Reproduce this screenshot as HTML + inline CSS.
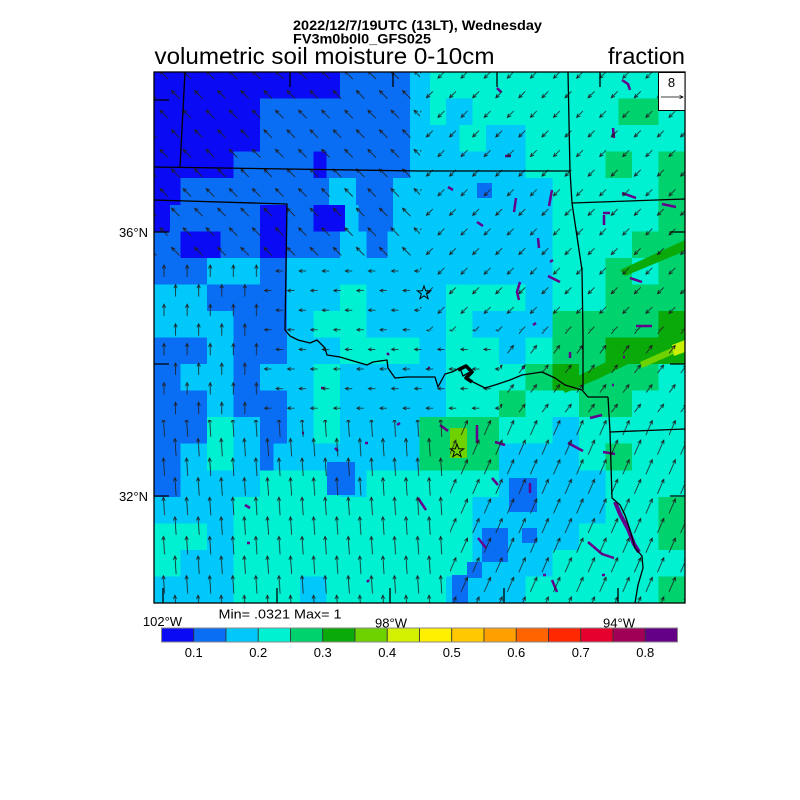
<!DOCTYPE html>
<html><head><meta charset="utf-8"><style>
html,body{margin:0;padding:0;background:#fff}
svg{display:block}
.a{fill:#0a0af5}.b{fill:#0a6ef5}.c{fill:#00c8fa}.d{fill:#00f0d2}.e{fill:#00d26e}.f{fill:#0aaa0a}.g{fill:#6ed200}
text{font-family:"Liberation Sans",Arial,sans-serif;fill:#000}
</style></head><body>
<svg width="800" height="800" viewBox="0 0 800 800" xmlns="http://www.w3.org/2000/svg">
<rect width="800" height="800" fill="#fff"/>
<defs>
<g id="aNW"><path d="M4,4L-4,-4M-0.24,-2.63L-4,-4L-2.63,-0.24"/></g>
<g id="aSW"><path d="M3.2,-3.2L-3.2,3.2M0.56,1.83L-3.2,3.2L-1.83,-0.56"/></g>
<g id="aW"><path d="M3.5,0L-3.5,0M-0.2,-1.6L-3.5,0L-0.2,1.6"/></g>
<g id="aNm"><path d="M0,6L0,-6M-1.7,-2.4L0,-6L1.7,-2.4"/></g>
<g id="aNl"><path d="M0.6,9L-0.6,-9M-2.2,-5.3L-0.6,-9L1.2,-5.5"/></g>
<g id="aNE"><path d="M-3.2,7.3L3.2,-7.3M3.3,-3.3L3.2,-7.3L0.2,-4.65"/></g>
<g id="aNEs"><path d="M-3,4L3,-4M2.18,-0.09L3,-4L-0.53,-2.12"/></g>
<pattern id="pNW" patternUnits="userSpaceOnUse" x="152.45" y="65.2" width="23.1" height="39.2"><g fill="none" stroke="#1e1e1e" stroke-width="0.8"><use href="#aNW" x="11.55" y="9.8"/><use href="#aNW" x="0" y="29.4"/><use href="#aNW" x="23.1" y="29.4"/></g></pattern>
<pattern id="pSW" patternUnits="userSpaceOnUse" x="152.45" y="65.2" width="23.1" height="39.2"><g fill="none" stroke="#1e1e1e" stroke-width="0.8"><use href="#aSW" x="11.55" y="9.8"/><use href="#aSW" x="0" y="29.4"/><use href="#aSW" x="23.1" y="29.4"/></g></pattern>
<pattern id="pW" patternUnits="userSpaceOnUse" x="152.45" y="65.2" width="23.1" height="39.2"><g fill="none" stroke="#1e1e1e" stroke-width="0.8"><use href="#aW" x="11.55" y="9.8"/><use href="#aW" x="0" y="29.4"/><use href="#aW" x="23.1" y="29.4"/></g></pattern>
<pattern id="pNm" patternUnits="userSpaceOnUse" x="152.45" y="65.2" width="23.1" height="39.2"><g fill="none" stroke="#1e1e1e" stroke-width="0.8"><use href="#aNm" x="11.55" y="9.8"/><use href="#aNm" x="0" y="29.4"/><use href="#aNm" x="23.1" y="29.4"/></g></pattern>
<pattern id="pNl" patternUnits="userSpaceOnUse" x="152.45" y="65.2" width="23.1" height="39.2"><g fill="none" stroke="#1e1e1e" stroke-width="0.8"><use href="#aNl" x="11.55" y="9.8"/><use href="#aNl" x="0" y="29.4"/><use href="#aNl" x="23.1" y="29.4"/></g></pattern>
<pattern id="pNE" patternUnits="userSpaceOnUse" x="152.45" y="65.2" width="23.1" height="39.2"><g fill="none" stroke="#1e1e1e" stroke-width="0.8"><use href="#aNE" x="11.55" y="9.8"/><use href="#aNE" x="0" y="29.4"/><use href="#aNE" x="23.1" y="29.4"/></g></pattern>
<pattern id="pNEs" patternUnits="userSpaceOnUse" x="152.45" y="65.2" width="23.1" height="39.2"><g fill="none" stroke="#1e1e1e" stroke-width="0.8"><use href="#aNEs" x="11.55" y="9.8"/><use href="#aNEs" x="0" y="29.4"/><use href="#aNEs" x="23.1" y="29.4"/></g></pattern>
<clipPath id="plotclip"><rect x="154" y="72" width="531" height="531"/></clipPath>
</defs>

<!-- color grid -->
<svg x="154" y="72" width="531" height="531" viewBox="0 0 20 20" preserveAspectRatio="none" shape-rendering="crispEdges">
<rect x="0" y="0" width="20" height="20" class="c"/>
<!-- row 0 -->
<rect x="0" y="0" width="7" height="1" class="a"/><rect x="7" y="0" width="2.65" height="1" class="b"/><rect x="10.4" y="0" width="9.6" height="1" class="d"/>
<!-- row 1 -->
<rect x="0" y="1" width="4" height="1" class="a"/><rect x="4" y="1" width="5.65" height="1" class="b"/><rect x="10.4" y="1" width="0.6" height="1" class="d"/><rect x="12" y="1" width="5.5" height="1" class="d"/><rect x="17.5" y="1" width="1.5" height="1" class="e"/><rect x="19" y="1" width="1" height="1" class="d"/>
<!-- row 2 -->
<rect x="0" y="2" width="4" height="1" class="a"/><rect x="4" y="2" width="5.65" height="1" class="b"/><rect x="11.5" y="2" width="1" height="1" class="d"/><rect x="14" y="2" width="6" height="1" class="d"/>
<!-- row 3 -->
<rect x="0" y="3" width="3" height="1" class="a"/><rect x="3" y="3" width="3" height="1" class="b"/><rect x="6" y="3" width="0.5" height="1" class="a"/><rect x="6.5" y="3" width="3.15" height="1" class="b"/><rect x="14" y="3" width="3" height="1" class="d"/><rect x="17" y="3" width="1" height="1" class="e"/><rect x="18" y="3" width="1" height="1" class="d"/><rect x="19" y="3" width="1" height="1" class="e"/>
<!-- row 4 -->
<rect x="0" y="4" width="1" height="1" class="a"/><rect x="1" y="4" width="5.6" height="1" class="b"/><rect x="7.6" y="4" width="1.4" height="1" class="b"/><rect x="15" y="4" width="4" height="1" class="d"/><rect x="19" y="4" width="1" height="1" class="e"/>
<!-- row 5 -->
<rect x="0" y="5" width="0.6" height="1" class="a"/><rect x="0.6" y="5" width="3.4" height="1" class="b"/><rect x="4" y="5" width="1" height="1" class="a"/><rect x="5" y="5" width="1" height="1" class="b"/><rect x="6" y="5" width="1.2" height="1" class="a"/><rect x="7.7" y="5" width="1.3" height="1" class="b"/><rect x="15" y="5" width="4" height="1" class="d"/><rect x="19" y="5" width="1" height="1" class="e"/>
<!-- row 6 -->
<rect x="0" y="6" width="1" height="1" class="b"/><rect x="1" y="6" width="1.5" height="1" class="a"/><rect x="2.5" y="6" width="1.5" height="1" class="b"/><rect x="4" y="6" width="1" height="1" class="a"/><rect x="5" y="6" width="2" height="1" class="b"/><rect x="8" y="6" width="0.8" height="1" class="b"/><rect x="15" y="6" width="3" height="1" class="d"/><rect x="18" y="6" width="2" height="1" class="e"/>
<!-- row 7 -->
<rect x="0" y="7" width="2" height="1" class="b"/><rect x="4" y="7" width="1" height="1" class="b"/><rect x="15" y="7" width="2" height="1" class="d"/><rect x="17" y="7" width="1" height="1" class="e"/><rect x="18" y="7" width="1" height="1" class="d"/><rect x="19" y="7" width="1" height="1" class="e"/>
<!-- row 8 -->
<rect x="2" y="8" width="3" height="1" class="b"/><rect x="7" y="8" width="1" height="1" class="d"/><rect x="11" y="8" width="3" height="1" class="d"/><rect x="15" y="8" width="2" height="1" class="d"/><rect x="17" y="8" width="3" height="1" class="e"/>
<!-- row 9 -->
<rect x="3" y="9" width="2" height="1" class="b"/><rect x="6" y="9" width="2" height="1" class="d"/><rect x="11" y="9" width="1" height="1" class="d"/><rect x="15" y="9" width="4" height="1" class="e"/><rect x="19" y="9" width="1" height="1" class="f"/>
<!-- row 10 -->
<rect x="0" y="10" width="2" height="1" class="b"/><rect x="3" y="10" width="2" height="1" class="b"/><rect x="7" y="10" width="3" height="1" class="d"/><rect x="11" y="10" width="2" height="1" class="d"/><rect x="14" y="10" width="1" height="1" class="d"/><rect x="15" y="10" width="2" height="1" class="e"/><rect x="17" y="10" width="3" height="1" class="f"/>
<!-- row 11 -->
<rect x="0" y="11" width="1" height="1" class="b"/><rect x="3" y="11" width="1" height="1" class="b"/><rect x="6" y="11" width="1" height="1" class="d"/><rect x="11" y="11" width="3" height="1" class="d"/><rect x="14" y="11" width="1" height="1" class="e"/><rect x="15" y="11" width="1" height="1" class="f"/><rect x="16" y="11" width="3" height="1" class="e"/><rect x="19" y="11" width="1" height="1" class="d"/>
<!-- row 12 -->
<rect x="0" y="12" width="2" height="1" class="b"/><rect x="3" y="12" width="2" height="1" class="b"/><rect x="6" y="12" width="1" height="1" class="d"/><rect x="11" y="12" width="2" height="1" class="d"/><rect x="13" y="12" width="1" height="1" class="e"/><rect x="14" y="12" width="2" height="1" class="d"/><rect x="16" y="12" width="2" height="1" class="e"/><rect x="18" y="12" width="2" height="1" class="d"/>
<!-- row 13 -->
<rect x="0" y="13" width="2" height="1" class="b"/><rect x="2" y="13" width="1" height="1" class="d"/><rect x="4" y="13" width="1" height="1" class="b"/><rect x="6" y="13" width="1" height="1" class="d"/><rect x="10" y="13" width="3" height="1" class="e"/><rect x="13" y="13" width="2" height="1" class="d"/><rect x="16" y="13" width="4" height="1" class="d"/>
<!-- row 14 -->
<rect x="0" y="14" width="1" height="1" class="b"/><rect x="2" y="14" width="1" height="1" class="d"/><rect x="4" y="14" width="0.5" height="1" class="b"/><rect x="10" y="14" width="3" height="1" class="e"/><rect x="16" y="14" width="1" height="1" class="d"/><rect x="17" y="14" width="1" height="1" class="e"/><rect x="18" y="14" width="2" height="1" class="d"/>
<!-- row 15 -->
<rect x="0" y="15" width="1" height="1" class="b"/><rect x="4" y="15" width="3" height="1" class="d"/><rect x="8" y="15" width="5" height="1" class="d"/><rect x="17" y="15" width="3" height="1" class="d"/>
<!-- row 16 -->
<rect x="3" y="16" width="9" height="1" class="d"/><rect x="17" y="16" width="2" height="1" class="d"/><rect x="19" y="16" width="1" height="1" class="e"/>
<!-- row 17 -->
<rect x="0" y="17" width="2" height="1" class="d"/><rect x="3" y="17" width="9" height="1" class="d"/><rect x="16" y="17" width="3" height="1" class="d"/><rect x="19" y="17" width="1" height="1" class="e"/>
<!-- row 18 -->
<rect x="0" y="18" width="1" height="1" class="d"/><rect x="3" y="18" width="9" height="1" class="d"/><rect x="15" y="18" width="5" height="1" class="d"/>
<!-- row 19 -->
<rect x="3" y="19" width="2.5" height="1" class="d"/><rect x="6.5" y="19" width="4.5" height="1" class="d"/><rect x="14" y="19" width="5" height="1" class="d"/><rect x="19" y="19" width="1" height="1" class="e"/>
</svg>

<!-- overlays -->
<g clip-path="url(#plotclip)">
<rect x="477" y="183" width="15" height="15" class="b"/>
<rect x="509" y="478" width="28" height="34" class="b"/>
<rect x="482" y="528" width="26" height="34" class="b"/>
<rect x="522" y="528" width="15" height="15" class="b"/>
<rect x="467" y="562" width="15" height="16" class="b"/>
<rect x="452" y="575" width="16" height="28" class="b"/>
<rect x="327" y="462" width="28" height="33" class="b"/>
<rect x="425" y="430" width="25" height="32" class="e"/>
<rect x="450" y="428" width="17" height="30" class="g"/>
<polygon points="560,385 600,365 640,345 685,325 685,338 640,358 600,378 565,393" class="f"/>
<polygon points="620,270 685,240 685,251 625,276" class="f"/>
<polygon points="640,362 685,342 685,349 642,368" class="g"/>
<polygon points="672,345 685,340 685,352 674,356" fill="#c8f000"/>
<g fill="none" stroke="#64008c" stroke-width="2.5">
<path d="M497,88l4,4M622,80l6,4l2,6M613,128l1,10M516,198l-2,14M552,190l-3,16M477,222l6,4M448,187l5,3M505,156l6,0M538,238l1,10M550,262l3,-2M548,276l12,6M520,282l-3,10l2,8M533,325l3,-2M622,193l14,5M603,213l7,0M604,215l0,10M630,278l12,4M636,326l16,0M662,204l14,3"/>
<path d="M321,388l3,0M335,448l3,3M365,443l3,0M245,505l5,3M247,543l3,0M367,582l2,-2M387,353l2,2M397,425l3,-2M302,433l2,0M428,368l2,0M522,368l2,0M570,352l0,6M612,385l2,0M623,357l2,0"/>
<path d="M440,425l8,6M477,425l0,18M495,442l10,3M590,418l12,-3M568,443l15,8M603,452l12,2M492,478l6,7M530,483l0,10M418,498l8,12M588,542l14,12l12,4M478,538l8,10M552,580l5,12M543,575l3,0M602,575l3,0"/>
<path d="M615,502l5,12l8,15l6,15l5,8" stroke-width="4"/>
</g>

<!-- wind arrows -->
<rect x="154" y="72" width="266" height="190" fill="url(#pNW)"/>
<rect x="420" y="72" width="265" height="258" fill="url(#pSW)"/>
<rect x="154" y="262" width="108" height="158" fill="url(#pNm)"/>
<rect x="262" y="262" width="158" height="158" fill="url(#pW)"/>
<rect x="420" y="330" width="80" height="90" fill="url(#pW)"/>
<rect x="500" y="330" width="185" height="90" fill="url(#pNEs)"/>
<rect x="154" y="420" width="296" height="183" fill="url(#pNl)"/>
<rect x="450" y="420" width="235" height="183" fill="url(#pNE)"/>

<!-- borders -->
<g fill="none" stroke="#000" stroke-width="1.3" stroke-linejoin="round">
<path d="M185,72L180,167"/>
<path d="M154,167L420,171L570,171"/>
<path d="M568,72L570,171L572,203L582,270L583,335L583,390"/>
<path d="M572,203L685,199"/>
<path d="M154,200L287,204L285,330L290,336"/>
<path d="M608,397L610,432L612,498L620,505L625,515L630,530L635,548L642,556L643,568L638,585L635,603"/>
<path d="M610,432L685,429"/>
<path d="M290,336L298,340L310,343L317,340L325,348L327,355L340,357L350,360L367,365L373,362L387,360L388,368L395,378L407,377L417,377L435,377L438,387L445,374L452,372L460,368L463,376L470,372L468,380L473,382L485,388L495,385L510,380L522,375L542,372L555,378L565,385L582,390L588,397L608,397"/>
<path d="M458,370L466,366L472,372L466,378L472,382" stroke-width="3.5"/>
<!-- ticks -->
<path d="M154,100h15M154,232h15M154,364h15M154,496h15M685,100h-15M685,232h-15M685,364h-15M685,496h-15"/>
<path d="M163,603v-15M277,603v-15M390,603v-15M504,603v-15M618,603v-15"/>
<path d="M290,72v15M393,72v15M497,72v15M600,72v15"/>
</g>

<!-- stars -->
<g fill="none" stroke="#000" stroke-width="1">
<path transform="translate(424,293)" d="M0,-7L1.65,-2.27L6.66,-2.16L2.66,0.87L4.11,5.66L0,2.8L-4.11,5.66L-2.66,0.87L-6.66,-2.16L-1.65,-2.27Z"/>
<path transform="translate(457,451)" d="M0,-7L1.65,-2.27L6.66,-2.16L2.66,0.87L4.11,5.66L0,2.8L-4.11,5.66L-2.66,0.87L-6.66,-2.16L-1.65,-2.27Z"/>
</g>
</g>

<!-- plot frame -->
<rect x="154" y="72" width="531" height="531" fill="none" stroke="#000" stroke-width="1.3"/>

<!-- reference vector box -->
<rect x="658.5" y="72.5" width="26.5" height="38" fill="#fff" stroke="#000" stroke-width="1"/>
<text x="671.5" y="87" font-size="13" text-anchor="middle">8</text>
<path d="M661,97H683M679.5,95.3L683,97L679.5,98.7" fill="none" stroke="#000" stroke-width="0.8"/>

<!-- titles -->
<text x="293" y="30" font-size="13.5" font-weight="bold" textLength="249" lengthAdjust="spacingAndGlyphs">2022/12/7/19UTC (13LT), Wednesday</text>
<text x="293" y="43.5" font-size="13.5" font-weight="bold" textLength="138" lengthAdjust="spacingAndGlyphs">FV3m0b0l0_GFS025</text>
<text x="154.5" y="64" font-size="23" textLength="340" lengthAdjust="spacingAndGlyphs">volumetric soil moisture 0-10cm</text>
<text x="608" y="64" font-size="23" textLength="77" lengthAdjust="spacingAndGlyphs">fraction</text>

<!-- axis labels -->
<text x="148" y="237" font-size="13" text-anchor="end">36°N</text>
<text x="148" y="501" font-size="13" text-anchor="end">32°N</text>
<text x="162.5" y="626" font-size="13" text-anchor="middle">102°W</text>
<text x="391" y="627.5" font-size="13" text-anchor="middle">98°W</text>
<text x="619" y="627.5" font-size="13" text-anchor="middle">94°W</text>
<text x="218.5" y="618.5" font-size="13" textLength="123" lengthAdjust="spacingAndGlyphs">Min= .0321 Max= 1</text>

<!-- colorbar -->
<g stroke="#333" stroke-width="0.8">
<rect x="161.5" y="628" width="32.25" height="14" fill="#0a0af5"/>
<rect x="193.75" y="628" width="32.25" height="14" fill="#0a6ef5"/>
<rect x="226" y="628" width="32.25" height="14" fill="#00c8fa"/>
<rect x="258.25" y="628" width="32.25" height="14" fill="#00f0d2"/>
<rect x="290.5" y="628" width="32.25" height="14" fill="#00d26e"/>
<rect x="322.75" y="628" width="32.25" height="14" fill="#0aaa0a"/>
<rect x="355" y="628" width="32.25" height="14" fill="#6ed200"/>
<rect x="387.25" y="628" width="32.25" height="14" fill="#d2f000"/>
<rect x="419.5" y="628" width="32.25" height="14" fill="#fff000"/>
<rect x="451.75" y="628" width="32.25" height="14" fill="#ffc800"/>
<rect x="484" y="628" width="32.25" height="14" fill="#ffa000"/>
<rect x="516.25" y="628" width="32.25" height="14" fill="#ff6400"/>
<rect x="548.5" y="628" width="32.25" height="14" fill="#ff2800"/>
<rect x="580.75" y="628" width="32.25" height="14" fill="#e6002d"/>
<rect x="613" y="628" width="32.25" height="14" fill="#a00055"/>
<rect x="645.25" y="628" width="32.25" height="14" fill="#640087"/>
</g>
<rect x="161.5" y="628" width="516" height="14" fill="none" stroke="#888" stroke-width="1"/>
<g font-size="13" text-anchor="middle">
<text x="193.75" y="657">0.1</text>
<text x="258.25" y="657">0.2</text>
<text x="322.75" y="657">0.3</text>
<text x="387.25" y="657">0.4</text>
<text x="451.75" y="657">0.5</text>
<text x="516.25" y="657">0.6</text>
<text x="580.75" y="657">0.7</text>
<text x="645.25" y="657">0.8</text>
</g>
</svg>
</body></html>
